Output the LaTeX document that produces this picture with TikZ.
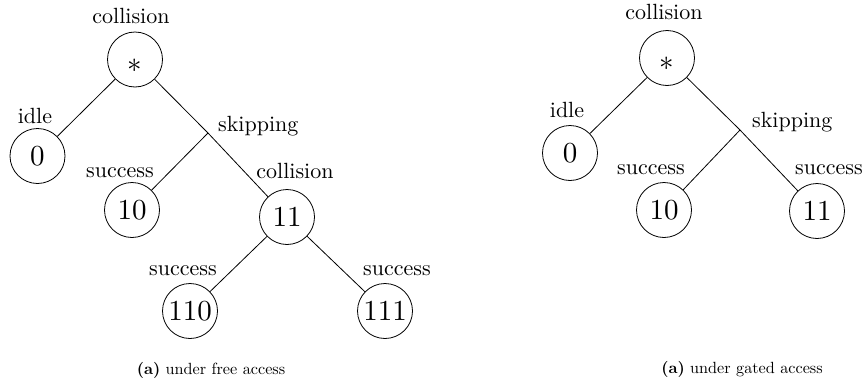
\documentclass[tikz,border=0pt]{standalone}
\newcommand\LBtxt[1]{\scalebox{2.2}{\normalsize #1}}
\newcommand\STtxt[1]{\scalebox{2.9}{\normalsize #1}}
\newcommand\STstar{\raisebox{0pt}[25.5pt][0pt]{\scalebox{2.9}{\normalsize $\ast$}}}
\newcommand\CPtxt[1]{\scalebox{1.62}{\normalsize #1}}
\begin{document}
\begin{tikzpicture}[x=1pt,y=-1pt,
  st/.style={circle, draw, line width=0.8pt, minimum size=55pt, inner sep=0pt},
  lb/.style={inner sep=0pt, anchor=base},
  captxt/.style={inner sep=0pt, anchor=base},
  conn/.style={line width=0.8pt}]
\useasboundingbox (0,0) rectangle (865,383);
% left tree
\node[st] (r1) at (135,59.5) {\STstar};
\node[st] (z1) at (37.5,156) {\STtxt{0}};
\coordinate (s1) at (208,133);
\node[st] (t1) at (132,210) {\STtxt{10}};
\node[st] (e1) at (287,217) {\STtxt{11}};
\node[st] (f1) at (190,311) {\STtxt{110}};
\node[st] (g1) at (385,311) {\STtxt{111}};
\draw[conn] (r1) -- (z1);
\draw[conn] (r1) -- (s1) -- (e1);
\draw[conn] (s1) -- (t1);
\draw[conn] (e1) -- (f1);
\draw[conn] (e1) -- (g1);
\node[lb] (lr1) at (131,23) {\LBtxt{collision}};
\node[lb] (lz1) at (35,123) {\LBtxt{idle}};
\node[lb,anchor=base west] (ls1) at (218,131) {\LBtxt{skipping}};
\node[lb] (lt1) at (120,177) {\LBtxt{success}};
\node[lb] (le1) at (295,178) {\LBtxt{collision}};
\node[lb] (lf1) at (183,275) {\LBtxt{success}};
\node[lb] (lg1) at (397,275) {\LBtxt{success}};
\node[captxt] (c1) at (211,374) {\CPtxt{\textbf{(a)} under free access}};
% right tree
\node[st] (r2) at (667,58) {\STstar};
\node[st] (z2) at (570,153) {\STtxt{0}};
\coordinate (s2) at (740,130);
\node[st] (t2) at (664,210) {\STtxt{10}};
\node[st] (e2) at (817,211) {\STtxt{11}};
\draw[conn] (r2) -- (z2);
\draw[conn] (r2) -- (s2) -- (e2);
\draw[conn] (s2) -- (t2);
\node[lb] (lr2) at (664,19) {\LBtxt{collision}};
\node[lb] (lz2) at (567,117) {\LBtxt{idle}};
\node[lb,anchor=base west] (ls2) at (752,127) {\LBtxt{skipping}};
\node[lb] (lt2) at (651,174) {\LBtxt{success}};
\node[lb] (le2) at (829,174) {\LBtxt{success}};
\node[captxt] (c2) at (742,373) {\CPtxt{\textbf{(a)} under gated access}};
\end{tikzpicture}
\end{document}
